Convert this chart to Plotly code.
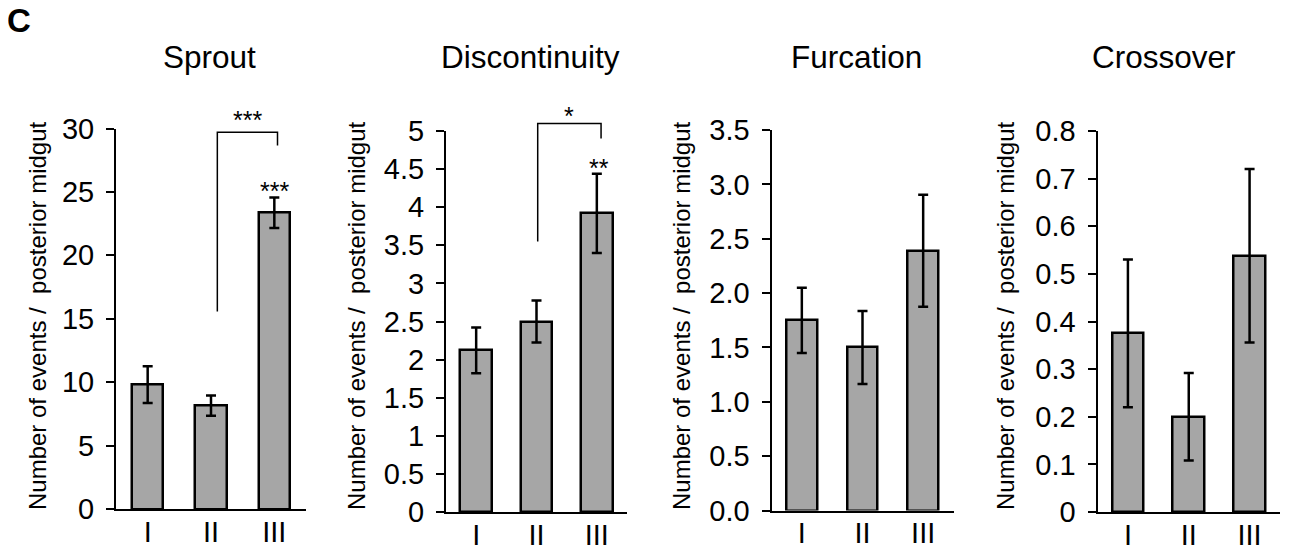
import plotly.graph_objects as go

# ---------------- data ----------------
categories = ["I", "II", "III"]
panel_titles = ["Sprout", "Discontinuity", "Furcation", "Crossover"]
y_title = "Number of events /\u00a0 posterior midgut"

sprout_mean = [9.8, 8.15, 23.35]
sprout_err = [1.45, 0.8, 1.2]
disc_mean = [2.12, 2.5, 3.92]
disc_err = [0.3, 0.275, 0.52]
furc_mean = [1.75, 1.5, 2.39]
furc_err = [0.3, 0.335, 0.515]
cross_mean = [0.375, 0.2, 0.538]
cross_err = [0.155, 0.092, 0.182]

sprout_ticks = [0, 5, 10, 15, 20, 25, 30]
sprout_ticklabels = ["0", "5", "10", "15", "20", "25", "30"]
disc_ticks = [0, 0.5, 1, 1.5, 2, 2.5, 3, 3.5, 4, 4.5, 5]
disc_ticklabels = ["0", "0.5", "1", "1.5", "2", "2.5", "3", "3.5", "4", "4.5", "5"]
furc_ticks = [0, 0.5, 1, 1.5, 2, 2.5, 3, 3.5]
furc_ticklabels = ["0.0", "0.5", "1.0", "1.5", "2.0", "2.5", "3.0", "3.5"]
cross_ticks = [0, 0.1, 0.2, 0.3, 0.4, 0.5, 0.6, 0.7, 0.8]
cross_ticklabels = ["0", "0.1", "0.2", "0.3", "0.4", "0.5", "0.6", "0.7", "0.8"]

# significance brackets: x of legs, y of (left leg bottom, bar top, right leg bottom)
sprout_bracket_x = [1.1, 2.05]
sprout_bracket_y = [15.57, 29.7, 28.65]
sprout_bracket_label = "***"
sprout_bracket_label_pos = [1.575, 31.07]
sprout_bar_label = "***"
sprout_bar_label_pos = [2.0, 25.5]

disc_bracket_x = [1.02, 2.07]
disc_bracket_y = [3.55, 5.1, 4.9]
disc_bracket_label = "*"
disc_bracket_label_pos = [1.54, 5.26]
disc_bar_label = "**"
disc_bar_label_pos = [2.04, 4.58]

# ---------------- layout geometry (screen pixels) ----------------
W, H = 1292, 552
OFF = 8  # page body margin
FONT = "Liberation Sans, Arial, Helvetica, sans-serif"
BAR_COLOR = "#a6a6a6"


def px_x(v):
    return (v - OFF) / W


def px_y(v):
    return 1 - (v - OFF) / H


panels = [
    dict(mean=sprout_mean, err=sprout_err, ticks=sprout_ticks, labels=sprout_ticklabels,
         x0=116, x1=306, ytop=128.5, ybot=509, barw=0.49, title_x=209, ytitle_x=37),
    dict(mean=disc_mean, err=disc_err, ticks=disc_ticks, labels=disc_ticklabels,
         x0=446, x1=627, ytop=131, ybot=512, barw=0.52, title_x=530, ytitle_x=356),
    dict(mean=furc_mean, err=furc_err, ticks=furc_ticks, labels=furc_ticklabels,
         x0=771.5, x1=953.5, ytop=130, ybot=510.6, barw=0.51, title_x=856.7, ytitle_x=681),
    dict(mean=cross_mean, err=cross_err, ticks=cross_ticks, labels=cross_ticklabels,
         x0=1097.5, x1=1280, ytop=131, ybot=512, barw=0.52, title_x=1164, ytitle_x=1005),
]

fig = go.Figure()
annotations = []
shapes = []

for i, p in enumerate(panels, start=1):
    xa = "x" if i == 1 else f"x{i}"
    ya = "y" if i == 1 else f"y{i}"
    fig.add_trace(go.Bar(
        x=[0, 1, 2], y=p["mean"], width=p["barw"],
        marker=dict(color=BAR_COLOR, line=dict(color="black", width=2.5)),
        error_y=dict(type="data", array=p["err"], color="black", thickness=2.5, width=5),
        xaxis=xa, yaxis=ya, showlegend=False, hoverinfo="skip",
    ))
    ymax = max(p["ticks"])
    fig.layout[f"xaxis{'' if i == 1 else i}"] = dict(
        domain=[px_x(p["x0"]), px_x(p["x1"])], range=[-0.5, 2.5],
        anchor=ya, showline=True, linecolor="black", linewidth=2,
        ticks="", tickvals=[0, 1, 2], ticktext=categories,
        ticklabelstandoff=-4,
        tickfont=dict(size=29, color="black", family=FONT),
        showgrid=False, zeroline=False, fixedrange=True, automargin=False,
    )
    fig.layout[f"yaxis{'' if i == 1 else i}"] = dict(
        domain=[px_y(p["ybot"]), px_y(p["ytop"])], range=[0, ymax],
        anchor=xa, showline=True, linecolor="black", linewidth=2,
        ticks="outside", ticklen=8, tickwidth=2, tickcolor="black",
        ticklabelstandoff=6,
        tickvals=p["ticks"], ticktext=p["labels"],
        tickfont=dict(size=29, color="black", family=FONT),
        showgrid=False, zeroline=False, fixedrange=True, automargin=False,
    )
    # panel title
    annotations.append(dict(
        text=panel_titles[i - 1], x=px_x(p["title_x"]), y=px_y(57),
        xref="paper", yref="paper", xanchor="center", yanchor="middle",
        showarrow=False, font=dict(size=31.5, color="black", family=FONT),
    ))
    # y-axis title
    annotations.append(dict(
        text=y_title, x=px_x(p["ytitle_x"]), y=px_y(316), textangle=-90,
        xref="paper", yref="paper", xanchor="center", yanchor="middle",
        showarrow=False, font=dict(size=24, color="black", family=FONT),
    ))


def add_bracket(i, bx, by, ymax, label, label_pos, bar_label, bar_label_pos):
    xa = "x" if i == 1 else f"x{i}"
    ya = "y" if i == 1 else f"y{i}"
    path = (f"M {bx[0]},{by[0] / ymax} L {bx[0]},{by[1] / ymax} "
            f"L {bx[1]},{by[1] / ymax} L {bx[1]},{by[2] / ymax}")
    shapes.append(dict(type="path", path=path, xref=xa, yref=f"{ya} domain",
                       line=dict(color="black", width=1.5)))
    for txt, pos in ((label, label_pos), (bar_label, bar_label_pos)):
        annotations.append(dict(
            text=txt, x=pos[0], y=pos[1] / ymax, xref=xa, yref=f"{ya} domain",
            xanchor="center", yanchor="middle", yshift=-5, showarrow=False,
            font=dict(size=25, color="black", family=FONT),
        ))


add_bracket(1, sprout_bracket_x, sprout_bracket_y, max(sprout_ticks),
            sprout_bracket_label, sprout_bracket_label_pos, sprout_bar_label, sprout_bar_label_pos)
add_bracket(2, disc_bracket_x, disc_bracket_y, max(disc_ticks),
            disc_bracket_label, disc_bracket_label_pos, disc_bar_label, disc_bar_label_pos)

# panel letter
annotations.append(dict(
    text="<b>C</b>", x=px_x(5), y=px_y(21), xref="paper", yref="paper",
    xanchor="left", yanchor="middle", showarrow=False,
    font=dict(size=33, color="black", family=FONT),
))

fig.update_layout(
    template="none",
    width=W, height=H, margin=dict(l=0, r=0, t=0, b=0, pad=0),
    paper_bgcolor="white", plot_bgcolor="white",
    annotations=annotations, shapes=shapes, bargap=0,
    font=dict(family=FONT, color="black"),
)

fig.write_html("out.html")
